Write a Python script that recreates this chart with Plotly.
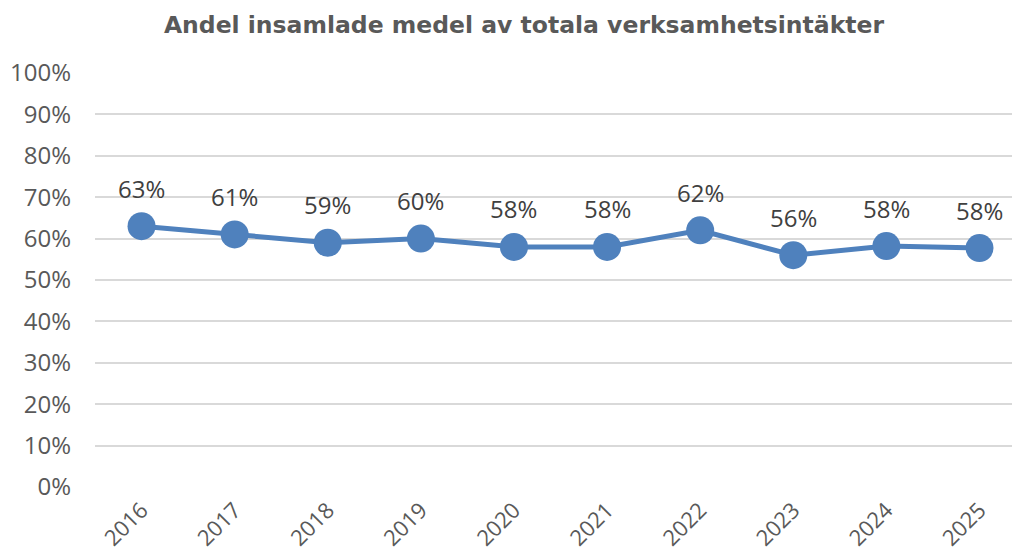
import plotly.graph_objects as go

years = ["2016", "2017", "2018", "2019", "2020", "2021", "2022", "2023", "2024", "2025"]
shares = [0.63, 0.61, 0.59, 0.60, 0.58, 0.58, 0.62, 0.56, 0.582, 0.577]
labels = ["63%", "61%", "59%", "60%", "58%", "58%", "62%", "56%", "58%", "58%"]
title = "Andel insamlade medel av totala verksamhetsintäkter"

# page body has an 8px margin, so the figure is sized to fit the viewport
W, H, OFF = 1012, 549, 8

fig = go.Figure()
fig.add_trace(go.Scatter(
    x=years, y=shares, mode="lines+markers",
    line=dict(color="#4F81BD", width=5),
    marker=dict(color="#4F81BD", size=28),
    cliponaxis=False, hoverinfo="skip",
))

for i, (v, lab) in enumerate(zip(shares, labels)):
    fig.add_annotation(x=i, y=v, xref="x", yref="y", text=lab, showarrow=False, yshift=38,
                       font=dict(family="Open Sans", size=24, color="#404040"))

fig.update_layout(
    width=W, height=H,
    margin=dict(l=95 - OFF, r=0, t=73 - OFF, b=557 - 487),
    paper_bgcolor="white", plot_bgcolor="white",
    showlegend=False,
    title=dict(text=title, x=(524 - OFF) / W, xanchor="center", y=1 - (25 - OFF) / H, yanchor="middle",
               font=dict(family="DejaVu Sans", size=23.5, color="#595959", weight="bold")),
    xaxis=dict(type="category", range=[-0.5, 9.435], tickangle=-45,
               showgrid=False, showline=False, ticks="", automargin=False,
               ticklabelstandoff=5,
               tickfont=dict(family="Open Sans", size=22, color="#595959")),
    yaxis=dict(range=[0, 1.0], dtick=0.1, tickformat=".0%", automargin=False,
               showgrid=True, gridcolor="#D9D9D9", gridwidth=2,
               zeroline=False, showline=False, ticks="", ticklabelstandoff=23,
               tickfont=dict(family="Open Sans", size=24, color="#595959")),
)

fig.write_html("out.html")
